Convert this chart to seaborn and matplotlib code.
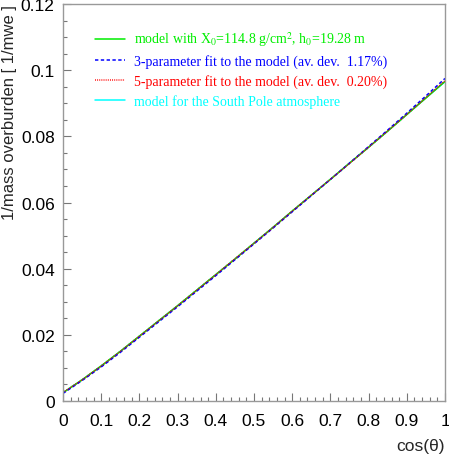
import numpy as np
import pandas as pd
import seaborn as sns
import matplotlib
matplotlib.use("Agg")
import matplotlib.pyplot as plt
from matplotlib.ticker import MultipleLocator, AutoMinorLocator

# values
cos_theta = [0.00, 0.05, 0.10, 0.15, 0.20, 0.25, 0.30, 0.35, 0.40, 0.45, 0.50,
             0.55, 0.60, 0.65, 0.70, 0.75, 0.80, 0.85, 0.90, 0.95, 1.00]
model = [0.0025, 0.0064, 0.0106, 0.0150, 0.0196, 0.0242, 0.0288, 0.0335, 0.0382, 0.0429, 0.0477,
         0.0525, 0.0574, 0.0622, 0.0670, 0.0719, 0.0767, 0.0816, 0.0866, 0.0916, 0.0966]
fit3 = [0.0023, 0.0062, 0.0103, 0.0147, 0.0193, 0.0239, 0.0285, 0.0332, 0.0379, 0.0427, 0.0475,
        0.0523, 0.0572, 0.0621, 0.0670, 0.0719, 0.0769, 0.0819, 0.0870, 0.0922, 0.0975]
fit5 = [0.0026, 0.0064, 0.0106, 0.0150, 0.0196, 0.0242, 0.0288, 0.0335, 0.0382, 0.0430, 0.0477,
        0.0525, 0.0574, 0.0622, 0.0670, 0.0718, 0.0767, 0.0816, 0.0866, 0.0917, 0.0968]
south_pole = [0.0025, 0.0064, 0.0106, 0.0150, 0.0196, 0.0242, 0.0288, 0.0335, 0.0382, 0.0429, 0.0477,
              0.0525, 0.0574, 0.0622, 0.0670, 0.0719, 0.0767, 0.0816, 0.0866, 0.0916, 0.0965]

labels = ["model with X$_0$=114.8 g/cm$^2$, h$_0$=19.28 m",
          "3-parameter fit to the model (av. dev.  1.17%)",
          "5-parameter fit to the model (av. dev.  0.20%)",
          "model for the South Pole atmosphere"]

sns.set_style("ticks")
plt.rcParams["font.family"] = ["Liberation Sans", "DejaVu Sans"]
plt.rcParams["mathtext.fontset"] = "stix"

df = pd.DataFrame({"cos": cos_theta, "model": model, "fit3": fit3,
                   "fit5": fit5, "sp": south_pole})

fig = plt.figure(figsize=(4.49, 4.56), dpi=100)
ax = fig.add_axes([0.1403, 0.1184, 0.8508, 0.8706])

# south pole first so it sits underneath
sns.lineplot(data=df, x="cos", y="sp", ax=ax, color="#00ffff", lw=1.1, label="_sp")
sns.lineplot(data=df, x="cos", y="model", ax=ax, color="#00ee00", lw=1.1, label=labels[0])
sns.lineplot(data=df, x="cos", y="fit3", ax=ax, color="#0000ff", lw=1.1,
             linestyle=(0, (2.2, 1.6)), label=labels[1])
sns.lineplot(data=df, x="cos", y="fit5", ax=ax, color="#ff0000", lw=1.1,
             linestyle=(0, (0.6, 0.8)), label=labels[2])
ax.plot([], [], color="#00ffff", lw=1.1, label=labels[3])

ax.set_xlim(0, 1)
ax.set_ylim(0, 0.12)
ax.xaxis.set_minor_locator(AutoMinorLocator(5))
ax.yaxis.set_minor_locator(AutoMinorLocator(4))
ax.set_xticks(np.arange(0, 1.01, 0.1))
ax.set_xticklabels(["0", "0.1", "0.2", "0.3", "0.4", "0.5", "0.6", "0.7", "0.8", "0.9", "1"])
ax.set_yticks(np.arange(0, 0.121, 0.02))
ax.set_yticklabels(["0", "0.02", "0.04", "0.06", "0.08", "0.1", "0.12"])
ax.xaxis.set_minor_locator(AutoMinorLocator(5))
ax.yaxis.set_minor_locator(AutoMinorLocator(4))

ax.tick_params(which="both", direction="in", colors="#777777", labelcolor="black",
               labelsize=12.5, top=False, right=False)
ax.tick_params(which="major", length=6, width=0.8)
ax.tick_params(which="minor", length=3, width=0.8)
ax.tick_params(axis="x", which="major", pad=8.5)
ax.tick_params(axis="y", which="major", pad=6)
for s in ax.spines.values():
    s.set_color("#999999")
    s.set_linewidth(1.0)

ax.set_xlabel("cos(θ)", fontsize=12.5, loc="right", labelpad=7)
ax.set_ylabel("1/mass overburden [ 1/mwe ]", fontsize=12, loc="top", labelpad=3)

handles, labs = ax.get_legend_handles_labels()
leg = ax.legend(handles, labs, loc="upper left", bbox_to_anchor=(0.05, 0.967),
                frameon=False, handlelength=2.2, handletextpad=0.65, labelspacing=0.42,
                prop={"family": "Liberation Serif", "size": 10}, labelcolor="linecolor")

fig.savefig("out.png", dpi=100)
